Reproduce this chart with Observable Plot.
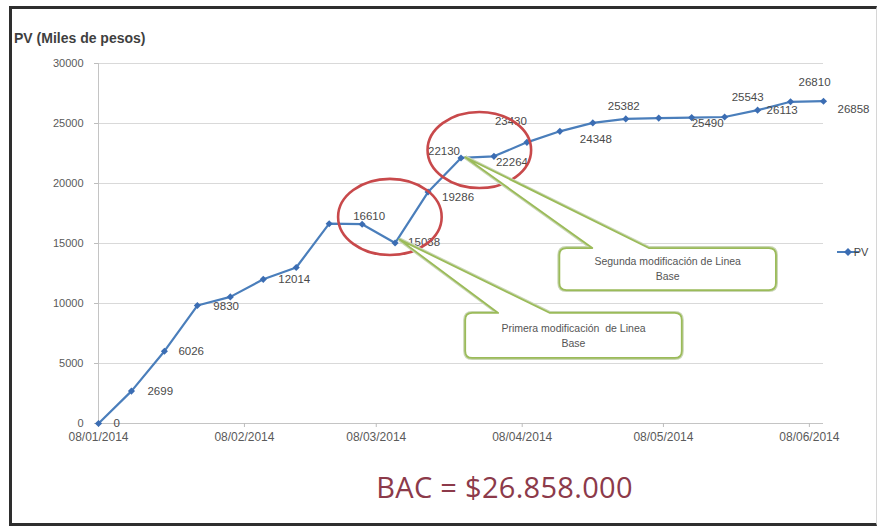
<!DOCTYPE html>
<html>
<head>
<meta charset="utf-8">
<script src="https://cdn.jsdelivr.net/npm/d3@7"></script>
<script src="https://cdn.jsdelivr.net/npm/@observablehq/plot@0.6"></script>
<style>
html, body { margin: 0; padding: 0; background: #fff; }
body { width: 880px; height: 527px; position: relative; overflow: hidden; font-family: "Liberation Sans", Arial, sans-serif; }
#frame { position: absolute; left: 9px; top: 6px; width: 868px; height: 520px; box-sizing: border-box;
  border-left: 3px solid #2e2e2e; border-top: 3px solid #2e2e2e; border-bottom: 3px solid #2e2e2e; border-right: 1px solid #d6d6d6; pointer-events: none; }
#title { position: absolute; left: 14px; top: 30px; font-weight: bold; font-size: 14px; line-height: 16px; color: #3f3f3f; white-space: nowrap; }
#chart { position: absolute; left: 0; top: 50px; width: 877px; height: 400px; overflow: hidden; }
#bac { position: absolute; left: 0; top: 469px; width: 1009px; text-align: center; font-family: "Open Sans", sans-serif; font-size: 29px; line-height: 36px; letter-spacing: 0.3px; color: #8c3a4a; white-space: nowrap; }
</style>
</head>
<body>
<div id="title">PV (Miles de pesos)</div>
<div id="chart"></div>
<div id="bac">BAC = $26.858.000</div>
<div id="frame"></div>
<script>
// ---- data ----
const weeks = ["2014-01-08","2014-01-15","2014-01-22","2014-01-29","2014-02-05","2014-02-12",
  "2014-02-19","2014-02-26","2014-03-05","2014-03-12","2014-03-19","2014-03-26","2014-04-02",
  "2014-04-09","2014-04-16","2014-04-23","2014-04-30","2014-05-07","2014-05-14","2014-05-21",
  "2014-05-28","2014-06-04","2014-06-11"];
const pv = [0, 2699, 6026, 9830, 10550, 12014, 13000, 16650, 16610, 15038, 19286, 22130, 22264,
  23430, 24348, 25050, 25382, 25450, 25490, 25543, 26113, 26810, 26858];
const dataLabels = ["0","2699","6026","9830",null,"12014",null,null,"16610","15038","19286","22130","22264",
  "23430","24348",null,"25382",null,"25490","25543","26113","26810","26858"];
const yTicks = [0, 5000, 10000, 15000, 20000, 25000, 30000];
const xTickDates = ["2014-01-08","2014-02-08","2014-03-08","2014-04-08","2014-05-08","2014-06-08"];
const seriesName = "PV";

// annotations (in data units)
const ellipses = [
  {date: "2014-03-11", value: 17170, halfDays: 11, halfValue: 3170},
  {date: "2014-03-30", value: 22750, halfDays: 11, halfValue: 3170}
];
const callouts = [
  {lines: ["Primera modificación  de Linea", "Base"], tipDate: "2014-03-13", tipValue: 15300,
   left: "2014-03-27", right: "2014-05-12", top: 9170, bottom: 5420, base1: "2014-04-03", base2: "2014-04-14"},
  {lines: ["Segunda modificación de Linea", "Base"], tipDate: "2014-03-27", tipValue: 22150,
   left: "2014-04-16", right: "2014-06-01", top: 14580, bottom: 11080, base1: "2014-04-23", base2: "2014-05-05"}
];

// ---- build ----
const D = s => new Date(s + "T00:00:00Z");
const data = weeks.map((w, i) => ({date: D(w), pv: pv[i], label: dataLabels[i], i}));

// label placement (style, not data)
const nudge = {0:[15,0],1:[16,0],2:[14,0],3:[16,1],5:[15,0],8:[-9,-8],9:[13,-1],10:[14,5],11:[-33,-7],
  12:[2,6],13:[-32,-21],14:[20,8],16:[-18,-13],18:[0,6],19:[7,-20],20:[9,0],21:[8,-19],22:[14,8]};

const BLUE = "#4a7ebb";
const labelMarks = data.filter(d => d.label != null).map(d =>
  Plot.text([d], {x: "date", y: "pv", text: "label", textAnchor: "start",
    dx: nudge[d.i][0], dy: nudge[d.i][1], fill: "#4a4a4a", fontSize: 11.5}));

function annotations(index, scales, values, dimensions) {
  const x = scales.x, y = scales.y;
  const g = d3.create("svg:g");
  for (const e of ellipses) {
    const c = D(e.date);
    const cx = x(c), cy = y(e.value);
    const rx = x(new Date(+c + e.halfDays * 864e5)) - cx;
    const ry = cy - y(e.value + e.halfValue);
    g.append("ellipse").attr("cx", cx).attr("cy", cy).attr("rx", rx).attr("ry", ry)
      .attr("fill", "none").attr("stroke", "#c8494b").attr("stroke-width", 2.6);
  }
  for (const c of callouts) {
    const x1 = x(D(c.left)), x2 = x(D(c.right)), y1 = y(c.top), y2 = y(c.bottom);
    const b1 = x(D(c.base1)), b2 = x(D(c.base2));
    const tx = x(D(c.tipDate)), ty = y(c.tipValue);
    const r = 7;
    const p = `M${x1+r},${y1} L${b1},${y1} L${tx},${ty} L${b2},${y1} L${x2-r},${y1} Q${x2},${y1} ${x2},${y1+r}
      L${x2},${y2-r} Q${x2},${y2} ${x2-r},${y2} L${x1+r},${y2} Q${x1},${y2} ${x1},${y2-r} L${x1},${y1+r} Q${x1},${y1} ${x1+r},${y1} Z`;
    g.append("path").attr("d", p).attr("fill", "none").attr("stroke", "#c9d6b4").attr("stroke-width", 4);
    g.append("path").attr("d", p).attr("fill", "#fff").attr("stroke", "#9bbb59").attr("stroke-width", 1.8)
      .attr("stroke-linejoin", "round");
    const cxm = (x1 + x2) / 2, cym = (y1 + y2) / 2;
    c.lines.forEach((t, k) => {
      g.append("text").attr("x", cxm).attr("y", cym + (k - 0.5) * 15).attr("dy", "0.35em")
        .attr("text-anchor", "middle").attr("fill", "#555").attr("font-size", 10.5).text(t);
    });
  }
  // legend at the right edge
  const lx = dimensions.width - 40, ly = dimensions.marginTop + 189;
  g.append("line").attr("x1", lx).attr("x2", lx + 22).attr("y1", ly).attr("y2", ly)
    .attr("stroke", BLUE).attr("stroke-width", 2);
  g.append("path").attr("d", d3.symbol(d3.symbolDiamond2, 40)()).attr("transform", `translate(${lx + 11},${ly})`)
    .attr("fill", "#3b6db3");
  g.append("text").attr("x", lx + 24).attr("y", ly).attr("dy", "0.35em").attr("fill", "#444")
    .attr("font-size", 11).text(seriesName);
  return g.node();
}

const chart = Plot.plot({
  width: 877, height: 400,
  marginTop: 13, marginBottom: 27, marginLeft: 98, marginRight: 54,
  style: {fontFamily: "'Liberation Sans', Arial, sans-serif", fontSize: "12px", background: "transparent", color: "#5a5a5a"},
  x: {type: "utc", domain: [data[0].date, data[data.length - 1].date]},
  y: {domain: [0, 30000]},
  marks: [
    Plot.ruleY(yTicks, {stroke: "#d9d9d9", strokeWidth: 1}),
    Plot.ruleX([data[0].date], {stroke: "#c4c4c4"}),
    Plot.ruleY([0], {stroke: "#c4c4c4"}),
    Plot.axisX(xTickDates.map(D), {tickFormat: d3.utcFormat("%d/%m/%Y"), tickSize: 4, tickPadding: 5,
      stroke: "#bdbdbd", fill: "#5a5a5a", label: null, fontSize: 12}),
    Plot.axisY(yTicks, {tickFormat: d => String(d), tickSize: 4, tickPadding: 11,
      stroke: "#bdbdbd", fill: "#5a5a5a", label: null, fontSize: 11}),
    Plot.line(data, {x: "date", y: "pv", stroke: BLUE, strokeWidth: 2.2}),
    Plot.dot(data, {x: "date", y: "pv", symbol: "diamond2", r: 3.2, fill: "#3b6db3", stroke: "none"}),
    ...labelMarks,
    annotations
  ]
});
document.getElementById("chart").appendChild(chart);
</script>
</body>
</html>
